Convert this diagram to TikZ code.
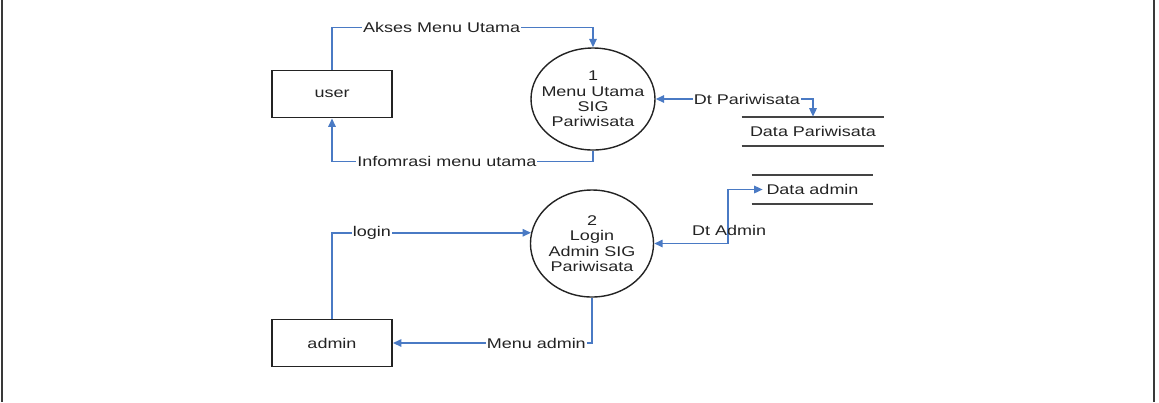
\documentclass[tikz,border=0pt]{standalone}
\usepackage{fontspec}
\setmainfont{Liberation Sans}[FakeStretch=1.28]
\usetikzlibrary{arrows.meta,positioning,shapes.geometric,calc}
\definecolor{flowblue}{RGB}{74,122,196}
\definecolor{ink}{RGB}{35,35,35}
\tikzset{
  >={Triangle[length=1.7mm,width=1.5mm]},
  entity/.style={draw=ink,line width=1.1pt,minimum width=2.4cm,minimum height=0.94cm,
    font=\fontsize{8}{9}\selectfont,text=ink},
  proc/.style={ellipse,draw=ink,line width=0.8pt,minimum width=#1,align=center,
    font=\fontsize{8}{8.8}\selectfont,text=ink,inner sep=0pt},
  store/.style={minimum width=#1,minimum height=0.58cm,font=\fontsize{8}{9}\selectfont,text=ink},
  storeline/.style={draw=ink!85,line width=1pt},
  flow/.style={->,draw=flowblue,line width=0.9pt},
  lbl/.style={fill=white,inner sep=0.6pt,font=\fontsize{8}{9}\selectfont,text=ink},
}
\begin{document}
\begin{tikzpicture}
  \useasboundingbox (0,0) rectangle (23.18,-8.04);
  % frame
  \draw[ink!90,line width=1.4pt] (0.04,0) -- (0.04,-8.04) (23.08,0) -- (23.08,-8.04);

  % entities
  \node[entity] (user) at (6.64,-1.88) {user};
  \node[entity] (admin) at (6.64,-6.86) {admin};

  % processes
  \node[proc=2.48cm,minimum height=2.04cm,inner xsep=-0.17cm] (p1) at (11.86,-1.98) {1\\Menu Utama\\SIG\\Pariwisata};
  \node[proc=2.44cm,minimum height=2.14cm] (p2) at (11.84,-4.87) {2\\Login\\Admin SIG\\Pariwisata};

  % data stores
  \node[store=2.84cm] (ds1) at (16.26,-2.63) {Data Pariwisata};
  \node[store=2.42cm] (ds2) at (16.25,-3.79) {Data admin};
  \foreach \s in {ds1,ds2}
    \draw[storeline] (\s.north west) -- (\s.north east) (\s.south west) -- (\s.south east);

  % flows
  \draw[flow] (user.north) |- node[lbl,pos=0.71] {Akses Menu Utama} ($(p1.north)+(0,0.4)$) -- (p1.north);
  \draw[flow] (p1.south) |- node[lbl,pos=0.78] {Infomrasi menu utama} ($(user.south)+(0,-0.86)$) -- (user.south);
  \draw[flow,<->] (p1.east) -| node[lbl,pos=0.29] {Dt Pariwisata} (ds1.north);
  \draw[flow,<->] (p2.east) -- ++(1.48,0) coordinate (c1) |- ($(ds2.west)+(0.22,0)$);
  \node[font=\fontsize{8}{9}\selectfont,text=ink,anchor=south,inner sep=0pt] (dtadm) at ($(c1)+(0.02,0.16)$) {Dt Admin};
  \draw[flow] (admin.north) |- node[lbl,pos=0.6] {login} (p2.170);
  \draw[flow] (p2.south) |- node[lbl,pos=0.64] {Menu admin} (admin.east);
\end{tikzpicture}
\end{document}
